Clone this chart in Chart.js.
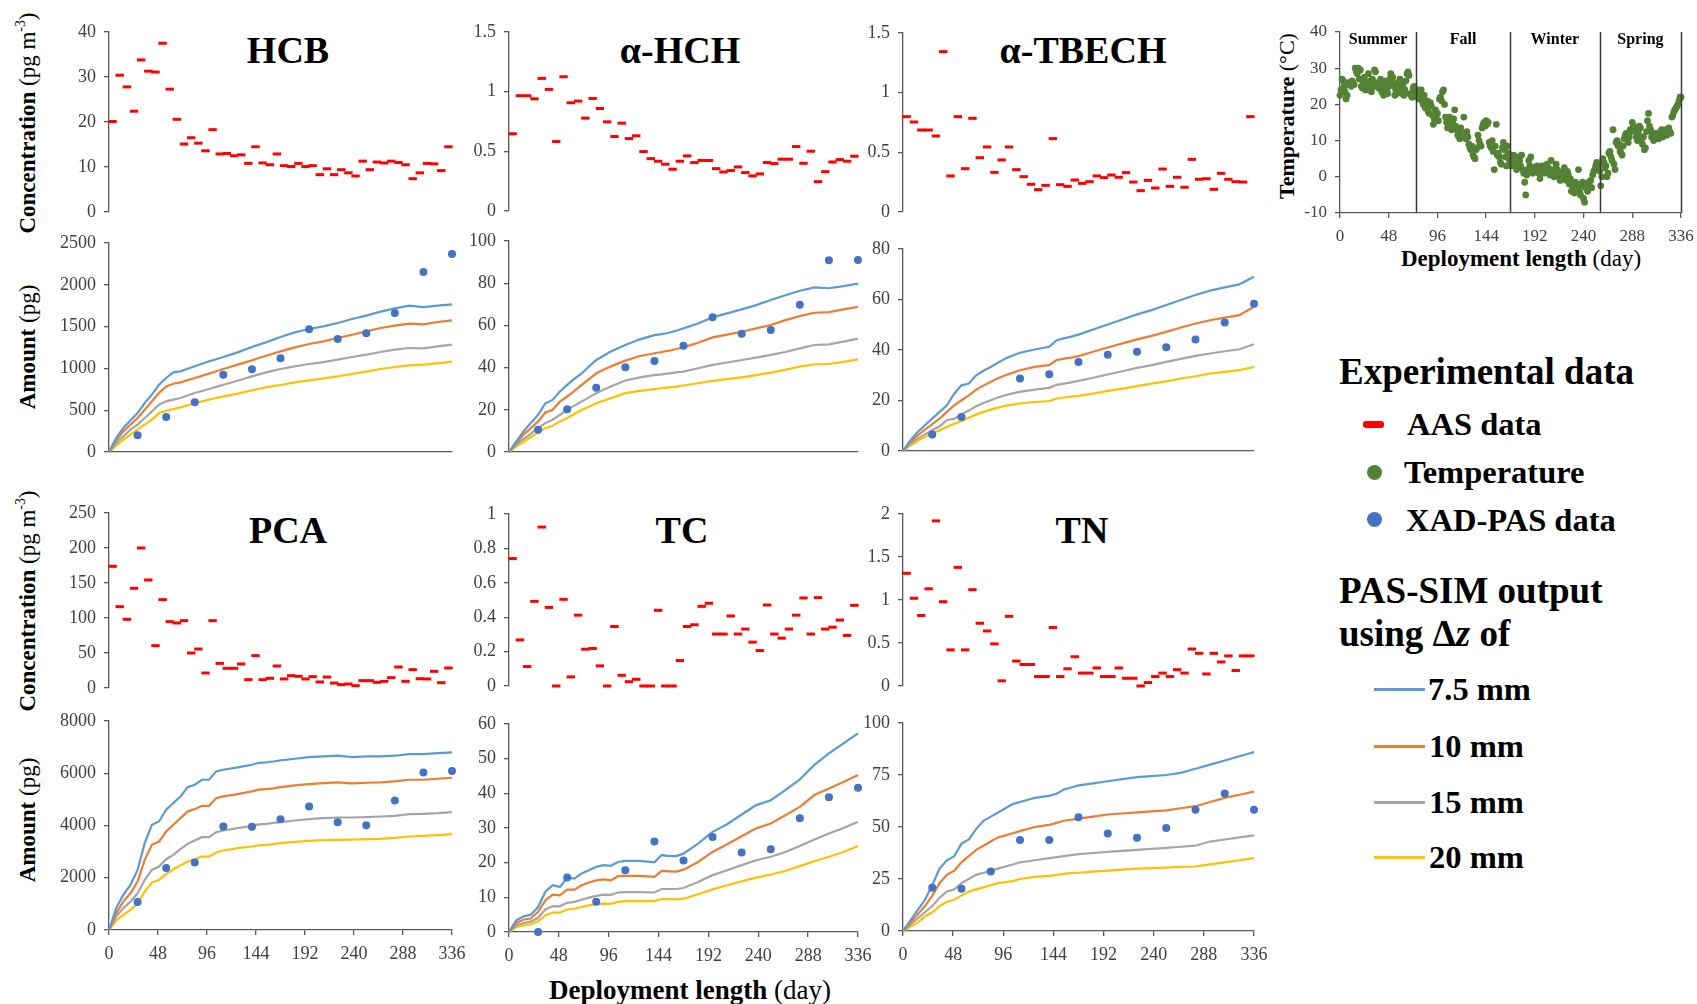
<!DOCTYPE html>
<html>
<head>
<meta charset="utf-8">
<script src="https://cdn.jsdelivr.net/npm/chart.js@4.4.1/dist/chart.umd.min.js"></script>
<style>
  body { margin: 0; background: #fff; }
  #page { position: relative; width: 1697px; height: 1004px; overflow: hidden; font-family: 'Liberation Serif', 'Times New Roman', serif; color: #000; }
  canvas { position: absolute; }
  .txt { position: absolute; white-space: nowrap; line-height: 1; }
  .title { font-weight: bold; font-size: 38px; transform: translate(-50%, -50%); }
  .ytitle { font-size: 23px; transform: translate(-50%, -50%) rotate(-90deg); }
  .xtitle { font-size: 27px; transform: translate(-50%, -50%); }
  .ytitle b, .xtitle b { font-weight: bold; }
  sup { font-size: 0.6em; vertical-align: 0.7em; line-height: 0; }
  .lgh { font-weight: bold; font-size: 37px; transform: translateY(-50%); }
  .lgi { font-weight: bold; font-size: 32.5px; transform: translateY(-50%); }
  .mk { position: absolute; }
</style>
</head>
<body>
<div id="page">
  <div class="txt title" style="left:288px; top:50px">HCB</div>
  <div class="txt title" style="left:680px; top:50px">α-HCH</div>
  <div class="txt title" style="left:1083px; top:50px">α-TBECH</div>
  <div class="txt title" style="left:288px; top:530px">PCA</div>
  <div class="txt title" style="left:682px; top:530px">TC</div>
  <div class="txt title" style="left:1082px; top:530px">TN</div>

  <div class="txt ytitle" style="left:27px; top:123px"><b>Concentration</b> (pg m<sup>-3</sup>)</div>
  <div class="txt ytitle" style="left:27px; top:347px"><b>Amount</b> (pg)</div>
  <div class="txt ytitle" style="left:27px; top:601px"><b>Concentration</b> (pg m<sup>-3</sup>)</div>
  <div class="txt ytitle" style="left:27px; top:820px"><b>Amount</b> (pg)</div>
  <div class="txt xtitle" style="left:690px; top:990px"><b>Deployment length</b> (day)</div>

  <div class="txt ytitle" style="left:1287px; top:116px; font-size:22px"><b>Temperature</b> (°C)</div>
  <div class="txt xtitle" style="left:1521px; top:258px; font-size:23px"><b>Deployment length</b> (day)</div>

  <div class="txt lgh" style="left:1339px; top:371px">Experimental data</div>
  <div class="mk" style="left:1363px; top:421px; width:21px; height:7px; border-radius:3px; background:#ff0000"></div>
  <div class="txt lgi" style="left:1407px; top:424px">AAS data</div>
  <div class="mk" style="left:1367px; top:465px; width:15px; height:15px; border-radius:50%; background:#548235"></div>
  <div class="txt lgi" style="left:1404px; top:472px">Temperature</div>
  <div class="mk" style="left:1367px; top:512px; width:15px; height:15px; border-radius:50%; background:#4472c4"></div>
  <div class="txt lgi" style="left:1406px; top:520px">XAD-PAS data</div>
  <div class="txt lgh" style="left:1339px; top:590px">PAS-SIM output</div>
  <div class="txt lgh" style="left:1339px; top:633px">using Δ<i>z</i> of</div>
  <div class="mk" style="left:1374px; top:688px; width:51px; height:3px; background:#5b9bd5"></div>
  <div class="txt lgi" style="left:1428px; top:689px">7.5 mm</div>
  <div class="mk" style="left:1374px; top:745px; width:51px; height:3px; background:#ed7d31"></div>
  <div class="txt lgi" style="left:1429px; top:746px">10 mm</div>
  <div class="mk" style="left:1374px; top:801px; width:51px; height:3px; background:#a5a5a5"></div>
  <div class="txt lgi" style="left:1429px; top:802px">15 mm</div>
  <div class="mk" style="left:1374px; top:856px; width:51px; height:3px; background:#ffc000"></div>
  <div class="txt lgi" style="left:1429px; top:857px">20 mm</div>
</div>

<script>
// ---- data ----
const modelDays = [0, 7, 14, 21, 28, 35, 42, 49, 56, 63, 70, 77, 84, 91, 98, 105, 112, 126, 140, 147, 154, 161, 168,
    182, 196, 210, 224, 238, 252, 266, 280, 294, 308, 322, 336];
const xadDays = [28, 56, 84, 112, 140, 168, 196, 224, 252, 280, 308, 336];
const dayTicks = [0, 48, 96, 144, 192, 240, 288, 336];

// weekly AAS concentrations (48 weeks)
const hcbConc = [20.1, 30.4, 27.8, 22.4, 33.8, 31.3, 31.1, 37.5, 27.3, 20.6, 15.1, 16.5,
    15.3, 13.6, 18.3, 12.9, 13.0, 12.5, 12.7, 10.8, 14.5, 10.9, 10.5, 12.9,
    10.3, 10.1, 10.8, 10.1, 10.3, 8.3, 9.6, 8.3, 9.4, 8.7, 8.0, 11.3,
    9.4, 11.1, 10.9, 11.3, 11.0, 10.5, 7.4, 8.7, 10.8, 10.7, 9.2, 14.5];
const hchConc = [0.647, 0.966, 0.966, 0.940, 1.111, 1.019, 0.582, 1.125, 0.907, 0.921, 0.778, 0.943,
    0.859, 0.747, 0.624, 0.736, 0.607, 0.630, 0.498, 0.439, 0.417, 0.392, 0.350, 0.417,
    0.462, 0.406, 0.423, 0.423, 0.355, 0.327, 0.339, 0.369, 0.322, 0.294, 0.311, 0.406,
    0.397, 0.434, 0.434, 0.540, 0.400, 0.501, 0.246, 0.330, 0.411, 0.431, 0.417, 0.459];
const tbeConc = [0.799, 0.754, 0.687, 0.687, 0.637, 1.344, 0.302, 0.799, 0.363, 0.785, 0.455, 0.545,
    0.332, 0.436, 0.545, 0.355, 0.296, 0.232, 0.187, 0.223, 0.615, 0.229, 0.215, 0.268,
    0.240, 0.254, 0.302, 0.288, 0.310, 0.291, 0.330, 0.251, 0.179, 0.265, 0.201, 0.360,
    0.215, 0.291, 0.207, 0.441, 0.274, 0.279, 0.190, 0.324, 0.274, 0.254, 0.251, 0.799];
const pcaConc = [173.8, 116.2, 98.1, 142.4, 200, 154.3, 60.5, 126.2, 94.8, 92.9, 96.2, 50.0,
    55.7, 21.4, 96.2, 35.2, 28.1, 28.1, 34.3, 11.9, 46.2, 11.9, 13.8, 31.4,
    12.9, 17.6, 16.7, 12.9, 16.2, 8.6, 15.7, 7.1, 4.8, 5.7, 3.3, 10.5,
    10.5, 8.1, 9.5, 14.8, 30.0, 9.5, 26.2, 13.3, 12.9, 23.8, 7.6, 28.6];
const tcConc = [0.741, 0.268, 0.113, 0.492, 0.924, 0.457, 0, 0.504, 0.053, 0.412, 0.214, 0.218,
    0.117, 0, 0.346, 0.062, 0.025, 0.039, 0, 0, 0.440, 0, 0, 0.148,
    0.346, 0.356, 0.463, 0.481, 0.302, 0.302, 0.407, 0.302, 0.331, 0.255, 0.206, 0.471,
    0.302, 0.278, 0.331, 0.412, 0.512, 0.302, 0.514, 0.331, 0.342, 0.383, 0.294, 0.469];
const tnConc = [1.31, 1.02, 0.82, 1.13, 1.92, 0.98, 0.42, 1.38, 0.42, 1.12, 0.73, 0.64,
    0.49, 0.06, 0.81, 0.29, 0.25, 0.25, 0.11, 0.11, 0.68, 0.11, 0.20, 0.34,
    0.15, 0.15, 0.21, 0.11, 0.11, 0.21, 0.09, 0.09, 0.0, 0.04, 0.11, 0.15,
    0.11, 0.19, 0.15, 0.43, 0.38, 0.14, 0.38, 0.28, 0.35, 0.18, 0.35, 0.35];

// XAD-PAS measured amounts (pg)
const hcbXad = [199, 419, 594, 925, 989, 1120, 1467, 1352, 1419, 1663, 2153, 2368];
const hchXad = [10.6, 20.3, 30.4, 40.2, 43.1, 50.4, 63.9, 56.1, 57.8, 69.8, 90.9, 91.0];
const tbeXad = [6.5, 13.5, null, 28.7, 30.4, 35.2, 38.1, 39.3, 41.1, 44.2, 50.9, 58.3];
const pcaXad = [1073, 2377, 2581, 3962, 3949, 4243, 4728, 4128, 4013, 4958, 6032, 6083];
const tcXad = [0, 15.7, 8.7, 17.8, 26.1, 20.6, 27.4, 22.9, 23.9, 32.8, 38.9, 41.6];
const tnXad = [20.8, 20.3, 28.6, 43.8, 43.8, 54.7, 46.9, 44.8, 49.5, 58.3, 66.1, 58.3];

// PAS-SIM output, one array per dz (7.5, 10, 15, 20 mm)
const hcb75 = [0, 167, 287, 379, 466, 586, 686, 805, 885, 953, 965, 995, 1025, 1055, 1084, 1110, 1136, 1192, 1256, 1284, 1312, 1344, 1376, 1431, 1471, 1503, 1543, 1591, 1631, 1679, 1718, 1750, 1734, 1750, 1766];
const hcb10 = [0, 140, 247, 327, 407, 506, 606, 706, 785, 817, 833, 860, 885, 911, 937, 965, 993, 1045, 1096, 1124, 1152, 1178, 1204, 1252, 1292, 1324, 1364, 1403, 1443, 1483, 1511, 1535, 1527, 1555, 1575];
const hcb15 = [0, 108, 187, 267, 327, 407, 486, 566, 606, 626, 646, 676, 706, 730, 753, 779, 805, 853, 905, 929, 953, 973, 993, 1025, 1053, 1076, 1104, 1136, 1164, 1196, 1224, 1244, 1240, 1264, 1284];
const hcb20 = [0, 76, 148, 207, 267, 327, 387, 466, 494, 514, 534, 560, 586, 606, 626, 646, 666, 698, 738, 756, 773, 787, 801, 833, 857, 881, 905, 933, 961, 993, 1017, 1037, 1045, 1061, 1080];

const hch75 = [0, 5.0, 9.8, 13.7, 17.6, 23.1, 24.7, 28.7, 31.8, 34.8, 37.3, 40.5, 43.6, 45.6, 47.6, 49.2, 50.7, 53.4, 55.4, 55.9, 56.5, 57.5, 58.6, 60.9, 63.8, 65.7, 67.6, 69.6, 72.0, 74.3, 76.4, 78.0, 77.6, 78.6, 79.8];
const hch10 = [0, 4.3, 8.2, 11.3, 14.5, 18.7, 20.0, 23.9, 26.3, 29.0, 31.8, 34.5, 37.3, 39.0, 40.5, 42.0, 43.3, 45.5, 46.8, 47.4, 48.0, 48.8, 49.6, 51.8, 54.3, 55.6, 57.0, 58.6, 60.2, 62.5, 64.4, 66.0, 66.3, 67.6, 68.8];
const hch15 = [0, 3.5, 6.1, 8.7, 11.3, 13.7, 15.3, 17.6, 20.0, 22.0, 23.9, 25.9, 27.9, 29.5, 31.0, 32.5, 33.9, 35.4, 36.4, 36.8, 37.3, 37.7, 38.1, 39.7, 41.3, 42.4, 43.6, 44.7, 46.0, 47.4, 49.1, 50.7, 51.0, 52.3, 53.7];
const hch20 = [0, 2.7, 4.7, 7.1, 9.3, 11.3, 12.4, 14.5, 16.1, 18.0, 20.0, 21.5, 23.1, 24.3, 25.5, 26.7, 27.9, 29.0, 29.8, 30.2, 30.6, 31.0, 31.5, 32.6, 33.7, 34.5, 35.4, 36.4, 37.6, 38.9, 40.5, 41.6, 41.7, 42.7, 43.9];

const tbe75 = [0, 4.2, 7.5, 10.2, 12.8, 15.5, 18.1, 22.7, 26.0, 26.7, 30.0, 31.8, 33.3, 35.0, 36.6, 37.8, 38.9, 40.2, 41.3, 43.9, 44.6, 45.3, 46.1, 48.1, 50.1, 52.1, 54.1, 55.8, 57.8, 59.8, 61.8, 63.5, 64.8, 66.0, 69.0];
const tbe10 = [0, 3.6, 6.2, 8.5, 10.6, 12.8, 15.5, 18.1, 20.1, 22.0, 24.3, 25.9, 27.4, 28.8, 30.0, 31.0, 32.0, 33.3, 34.0, 36.0, 36.6, 37.0, 37.6, 39.3, 41.0, 42.6, 44.2, 45.6, 47.2, 48.9, 50.5, 51.8, 52.8, 53.8, 57.1];
const tbe15 = [0, 2.9, 4.9, 6.6, 8.2, 9.8, 12.2, 12.8, 14.5, 16.0, 17.7, 19.0, 20.1, 21.2, 22.1, 22.8, 23.4, 24.3, 25.0, 26.2, 26.7, 27.2, 27.8, 29.0, 30.3, 31.6, 32.9, 34.0, 35.3, 36.5, 37.7, 38.6, 39.5, 40.3, 42.3];
const tbe20 = [0, 2.2, 4.0, 5.6, 6.9, 8.2, 9.5, 10.8, 11.9, 13.2, 14.4, 15.5, 16.4, 17.2, 17.9, 18.4, 18.8, 19.4, 19.8, 20.8, 21.2, 21.5, 21.8, 22.7, 23.8, 24.7, 25.7, 26.7, 27.6, 28.7, 29.6, 30.7, 31.3, 32.0, 33.3];

const pca75 = [0, 831, 1342, 1725, 2300, 3323, 4026, 4153, 4601, 4856, 5112, 5470, 5560, 5751, 5751, 6071, 6134, 6224, 6326, 6400, 6415, 6450, 6492, 6556, 6620, 6646, 6671, 6620, 6646, 6646, 6671, 6735, 6735, 6773, 6799];
const pca10 = [0, 639, 1086, 1406, 1853, 2684, 3259, 3387, 3770, 4026, 4281, 4537, 4626, 4754, 4754, 5048, 5112, 5202, 5304, 5370, 5393, 5420, 5470, 5534, 5585, 5623, 5649, 5610, 5636, 5649, 5687, 5751, 5751, 5789, 5828];
const pca15 = [0, 511, 831, 1086, 1406, 1917, 2300, 2428, 2709, 2876, 3093, 3297, 3425, 3553, 3553, 3745, 3808, 3898, 3987, 4040, 4064, 4100, 4128, 4192, 4243, 4281, 4307, 4307, 4320, 4345, 4371, 4435, 4448, 4473, 4511];
const pca20 = [0, 358, 575, 767, 1022, 1470, 1815, 1917, 2147, 2326, 2466, 2620, 2709, 2812, 2812, 2965, 3042, 3131, 3195, 3240, 3259, 3290, 3323, 3374, 3412, 3438, 3451, 3463, 3476, 3489, 3527, 3578, 3604, 3630, 3668];

const tc75 = [0, 3.4, 4.5, 5.0, 7.2, 11.6, 13.5, 13.0, 15.7, 15.4, 16.9, 17.8, 18.8, 19.3, 19.1, 20.2, 20.5, 20.5, 20.1, 22.2, 21.9, 21.9, 22.6, 25.5, 28.9, 31.1, 33.9, 36.6, 38.0, 40.9, 44.0, 48.2, 51.5, 54.4, 57.3];
const tc10 = [0, 2.6, 3.6, 3.9, 5.8, 9.1, 10.8, 10.6, 12.2, 12.2, 13.5, 14.3, 14.9, 15.2, 14.9, 16.1, 16.2, 16.2, 15.9, 17.6, 17.5, 17.4, 18.0, 20.2, 23.1, 25.3, 27.6, 29.9, 31.3, 33.7, 36.1, 39.5, 41.4, 43.3, 45.3];
const tc15 = [0, 1.9, 2.6, 3.0, 4.1, 6.5, 7.4, 7.4, 8.4, 8.7, 9.3, 9.9, 10.4, 10.8, 10.7, 11.4, 11.5, 11.5, 11.4, 12.4, 12.4, 12.4, 12.7, 14.4, 16.4, 17.8, 19.3, 20.7, 21.7, 23.1, 24.8, 26.7, 28.4, 30.0, 31.8];
const tc20 = [0, 1.4, 1.9, 2.2, 3.1, 4.8, 5.6, 5.6, 6.5, 6.7, 7.2, 7.7, 8.0, 8.2, 8.1, 8.7, 8.9, 8.9, 8.9, 9.5, 9.5, 9.4, 9.6, 10.9, 12.3, 13.5, 14.6, 15.7, 16.6, 17.6, 19.0, 20.4, 21.7, 23.1, 24.8];

const tn75 = [0, 5, 10, 15, 22, 30, 34, 36, 42, 44, 49, 53, 55, 57, 59, 61, 62, 64, 65, 66, 68, 69, 70, 71, 72, 73, 74, 74.5, 75, 76, 78, 80, 82, 84, 86];
const tn10 = [0, 4, 8, 12, 17, 23, 27, 29, 33, 36, 39, 41, 43, 45, 46, 47, 48, 50, 51, 52, 53, 53.5, 54, 55, 56, 56.5, 57, 57.5, 58, 59, 60, 62, 64, 65.5, 67];
const tn15 = [0, 3, 6, 9, 12, 16, 19, 20, 23, 25, 27, 28, 29, 30, 31, 32, 33, 34, 35, 35.5, 36, 36.5, 37, 37.5, 38, 38.5, 39, 39.5, 40, 40.5, 41, 43, 44, 45, 46];
const tn20 = [0, 2, 4, 7, 9, 12, 14, 15, 17, 19, 20, 21, 22, 23, 23.5, 24, 25, 26, 26.5, 27, 27.5, 27.8, 28, 28.5, 29, 29.5, 30, 30.2, 30.5, 30.8, 31, 32, 33, 34, 35];

// daily air temperature (°C), day 0 to 336
const temperature = [
    22.5, 24, 27, 26.5, 25, 23.5, 21.5, 22.5, 26, 25.5, 26, 25,
    26.5, 26, 25.5, 30, 29, 28.5, 30, 27, 29.5, 25, 24.5, 26,
    27.5, 24, 26, 25.5, 28.5, 24, 26.5, 23.5, 27, 25, 29.5, 29,
    26, 25, 24.5, 26, 27, 23.5, 24.5, 22.5, 25, 26.5, 24, 23,
    25, 27, 28.5, 26, 27.5, 25, 22.5, 24, 23, 26, 24.5, 27,
    26, 23, 25, 22.5, 24, 26.5, 28.5, 29, 28, 23, 22.5, 22,
    24.5, 25, 23, 22.5, 22, 24, 21.5, 23, 24, 21, 20, 22.5,
    19, 20, 21, 18, 17.5, 20.5, 19.5, 17, 14.5, 16, 18.5, 16,
    17.5, 15.5, 21.5, 22, 21, 23.5, 24, 20, 16.5, 15, 13.5, 14,
    16.5, 15, 13, 15, 16, 18.5, 14, 13, 11.5, 12, 10.5, 13.5,
    12, 11.5, 16.5, 11, 10.5, 12.5, 11, 9, 8, 7.5, 8.5, 6,
    5.5, 5, 7.5, 8, 11.5, 10, 9, 8.5, 13.5, 14.5, 15, 14,
    15.5, 14.5, 15, 9.5, 8.5, 8, 10, 7, 2, 8.5, 14.5, 6,
    6.5, 5.5, 4, 3.5, 8, 9.5, 7.5, 5.5, 3, 8.5, 6.5, 4.5,
    4, 3, 5, 6, 3.5, 3, 2, 4, 5.5, 4.5, 3, 6,
    2, 1, -1.5, -5, 0.5, 2, 4.5, 3, 5.5, 2, 1, 2.5,
    1.5, 2.5, 3, 2, 1, -0.5, 2.5, 3, 2, 1, 3, 2.5,
    3.5, 2.5, 1.5, 0.5, 4.5, 2, 1, 0, 1.5, 3.5, 2, 1,
    0, -1, 0.5, -0.5, 1.5, 2.5, 0, -1, 1.5, 0.5, -2, -0.5,
    -4, -3.5, -2.5, -4.5, -1.5, -3, -2, 2, -4, -5, -2.5, -1.5,
    -6, -7, -3, -2.5, -4, -1.5, -2.5, -1, -3, 0.5, 1.5, 2,
    3, 4, 2.5, 3.5, 1.5, -2.5, 0, 5, 4, 2.5, 3, 0,
    1, 6.5, 7, 5.5, 4.5, 13, 3.5, 2, 9.5, 10, 8.5, 9,
    7, 6.5, 6, 8.5, 10.5, 11.5, 12, 10.5, 9.5, 11, 13, 12.5,
    15, 14, 13, 12.5, 11, 10, 12, 14, 13.5, 10.5, 9, 11,
    7.5, 8, 12.5, 15.5, 17.5, 14, 13, 11, 12, 10, 11.5, 12,
    11, 12, 10.5, 11.5, 12.5, 13, 11, 12, 12.5, 13, 11.5, 12,
    13.5, 12.5, 12, 16.5, 17, 18, 18.5, 19, 19.5, 20, 21, 22,
    22];
const seasonEnds = [75, 167.5, 256, 336];
const seasonNames = ['Summer', 'Fall', 'Winter', 'Spring'];

// ---- styling ----
const SERIF = "'Liberation Serif', 'Times New Roman', serif";
const TICK_COLOR = '#404040';
const AXIS_COLOR = '#595959';
const MODEL_COLORS = ['#5b9bd5', '#ed7d31', '#a5a5a5', '#ffc000'];

Chart.defaults.font.family = SERIF;
Chart.defaults.color = TICK_COLOR;

function makeCanvas(rect, pad) {
    const c = document.createElement('canvas');
    c.width = rect[2] - rect[0] + pad.l + pad.r;
    c.height = rect[3] - rect[1] + pad.t + pad.b;
    c.style.left = (rect[0] - pad.l) + 'px';
    c.style.top = (rect[1] - pad.t) + 'px';
    document.getElementById('page').appendChild(c);
    return c;
}

// fixed box sizes so every plot area lands exactly on its rectangle
function yScale(min, max, step, width, size) {
    return {
        type: 'linear', min: min, max: max,
        afterFit: s => { s.width = width; s.paddingTop = 0; s.paddingBottom = 0; },
        ticks: {
            stepSize: step, color: TICK_COLOR, padding: 8,
            font: { family: SERIF, size: size },
            callback: v => String(Number(v.toFixed(2)))
        },
        grid: { display: true, drawOnChartArea: false, drawTicks: true, tickLength: 5, color: AXIS_COLOR, lineWidth: 1.3 },
        border: { display: true, color: AXIS_COLOR, width: 1.3 }
    };
}

function xScale(showTicks, height, size) {
    return {
        type: 'linear', min: 0, max: 336,
        afterFit: s => { s.height = height; s.paddingLeft = 0; s.paddingRight = 0; },
        afterBuildTicks: s => { s.ticks = dayTicks.map(v => ({ value: v })); },
        ticks: {
            display: showTicks, color: TICK_COLOR, padding: 8, maxRotation: 0, autoSkip: false,
            font: { family: SERIF, size: size }
        },
        grid: { display: showTicks, drawOnChartArea: false, drawTicks: true, tickLength: 5, color: AXIS_COLOR, lineWidth: 1.3 },
        border: { display: true, color: AXIS_COLOR, width: 1.3 }
    };
}

function baseOptions(pad, bottomPad, scales) {
    return {
        responsive: false, animation: false, events: [],
        layout: { padding: { top: pad.t, right: pad.r, left: 0, bottom: bottomPad } },
        plugins: { legend: { display: false }, tooltip: { enabled: false } },
        scales: scales
    };
}

function concChart(rect, yMax, yStep, values) {
    const pad = { l: 80, r: 20, t: 14, b: 14 };
    const canvas = makeCanvas(rect, pad);
    new Chart(canvas, {
        type: 'scatter',
        data: {
            datasets: [{
                data: values.map((v, i) => ({ x: 7 * i + 3.5, y: v })),
                pointStyle: 'line', pointRadius: 4.2, pointBorderWidth: 3,
                pointBorderColor: '#ff0000', pointBackgroundColor: '#ff0000', clip: false
            }]
        },
        options: baseOptions(pad, pad.b, {
            x: { type: 'linear', min: 0, max: 336, display: false },
            y: yScale(0, yMax, yStep, pad.l, 18)
        })
    });
}

function amountChart(rect, yMax, yStep, xad, models, showDays) {
    const pad = { l: 80, r: 22, t: 14, b: showDays ? 40 : 12 };
    const canvas = makeCanvas(rect, pad);
    const datasets = [{
        data: xadDays.map((d, i) => ({ x: d, y: xad[i] })),
        pointRadius: 4, pointBorderWidth: 0, pointBackgroundColor: '#4472c4', clip: false
    }];
    models.forEach((vals, k) => {
        datasets.push({
            data: modelDays.map((d, i) => ({ x: d, y: vals[i] })),
            showLine: true, borderColor: MODEL_COLORS[k], borderWidth: 2.2,
            pointRadius: 0, tension: 0, fill: false, clip: false
        });
    });
    new Chart(canvas, {
        type: 'scatter',
        data: { datasets: datasets },
        options: baseOptions(pad, 0, {
            x: xScale(showDays, pad.b, 18),
            y: yScale(0, yMax, yStep, pad.l, 18)
        })
    });
}

const seasonPlugin = {
    id: 'seasons',
    afterDatasetsDraw(chart) {
        const { ctx, chartArea: a, scales: { x } } = chart;
        ctx.save();
        ctx.strokeStyle = '#3a3a3a';
        ctx.lineWidth = 1.5;
        seasonEnds.forEach(d => {
            const px = Math.round(x.getPixelForValue(d)) + 0.5;
            ctx.beginPath();
            ctx.moveTo(px, a.top);
            ctx.lineTo(px, a.bottom);
            ctx.stroke();
        });
        ctx.fillStyle = '#000';
        ctx.font = 'bold 16px ' + SERIF;
        ctx.textAlign = 'center';
        ctx.textBaseline = 'middle';
        let start = 0;
        seasonEnds.forEach((d, i) => {
            ctx.fillText(seasonNames[i], x.getPixelForValue((start + d) / 2), a.top + 8);
            start = d;
        });
        ctx.restore();
    }
};

function temperatureChart(rect) {
    const pad = { l: 70, r: 22, t: 14, b: 34 };
    const canvas = makeCanvas(rect, pad);
    new Chart(canvas, {
        type: 'scatter',
        data: {
            datasets: [{
                data: temperature.map((t, d) => ({ x: d, y: t })),
                pointRadius: 3.4, pointBorderWidth: 0, pointBackgroundColor: '#548235', clip: false
            }]
        },
        options: baseOptions(pad, 0, {
            x: xScale(true, pad.b, 17),
            y: yScale(-10, 40, 10, pad.l, 17)
        }),
        plugins: [seasonPlugin]
    });
}

// plot rectangles [left, top, right, bottom] in page pixels
concChart([109, 32, 452, 212], 40, 10, hcbConc);
concChart([509, 32, 858, 211], 1.5, 0.5, hchConc);
concChart([903, 33, 1254, 212], 1.5, 0.5, tbeConc);
amountChart([109, 243, 452, 452], 2500, 500, hcbXad, [hcb75, hcb10, hcb15, hcb20], false);
amountChart([509, 241, 858, 452], 100, 20, hchXad, [hch75, hch10, hch15, hch20], false);
amountChart([903, 249, 1254, 451], 80, 20, tbeXad, [tbe75, tbe10, tbe15, tbe20], false);

concChart([109, 513, 452, 688], 250, 50, pcaConc);
concChart([509, 514, 858, 686], 1, 0.2, tcConc);
concChart([903, 514, 1254, 686], 2, 0.5, tnConc);
amountChart([109, 721, 452, 930], 8000, 2000, pcaXad, [pca75, pca10, pca15, pca20], true);
amountChart([509, 724, 858, 932], 60, 10, tcXad, [tc75, tc10, tc15, tc20], true);
amountChart([903, 723, 1254, 931], 100, 25, tnXad, [tn75, tn10, tn15, tn20], true);

temperatureChart([1340, 32, 1681, 213]);
</script>
</body>
</html>
